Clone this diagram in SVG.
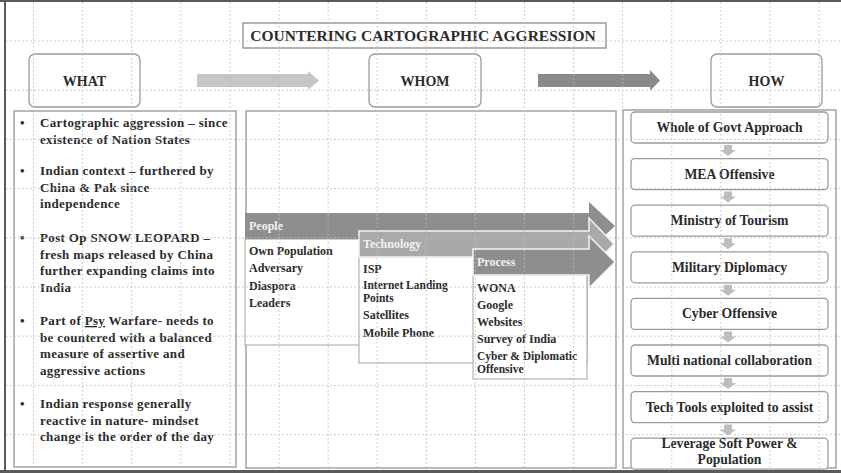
<svg xmlns="http://www.w3.org/2000/svg" width="841" height="473" viewBox="0 0 841 473">
  <defs>
    <style>
      .t { font-family: "Liberation Serif", "Times New Roman", serif; font-weight: bold; fill: #2b2b2b; }
      .hdr { font-size: 14px; text-anchor: middle; }
      .title { font-size: 15.5px; text-anchor: middle; }
      .body { font-size: 13px; letter-spacing: 0.35px; }
      .list { font-size: 12px; }
      .tight { font-size: 11.5px; }
      .how { font-size: 13.7px; text-anchor: middle; }
      .bar { font-size: 12px; fill: #f2f2f2; }
      .panel { fill: #ffffff; stroke: #a3a3a3; stroke-width: 1.5; }
      .hbox { fill: none; stroke: #9a9a9a; stroke-width: 1.3; }
      .step { fill: #ffffff; stroke: #9a9a9a; stroke-width: 1.3; }
      .lbox { fill: #ffffff; stroke: #b3b3b3; stroke-width: 1.2; }
      .grid line { stroke: #bdbdbd; stroke-width: 1; stroke-dasharray: 1.5 2.5; }
      .down { fill: #bdbdbd; }
    </style>
  </defs>

  <rect x="0" y="0" width="841" height="473" fill="#ffffff"/>

  <!-- panels -->
  <g id="what-panel">
    <rect class="panel" x="14" y="111" width="222" height="356"/>
  </g>
  <g id="whom-panel">
    <rect class="panel" x="246" y="111" width="370" height="357"/>
  </g>
  <g id="how-panel">
    <rect class="panel" x="623" y="110" width="213" height="358"/>
  </g>

  <!-- title -->
  <g id="title">
    <rect x="243" y="23" width="363" height="25" fill="#ffffff" stroke="#8a8a8a" stroke-width="1.3"/>
    <text class="t title" x="423" y="41">COUNTERING CARTOGRAPHIC AGGRESSION</text>
  </g>

  <!-- column headers -->
  <g id="what">
    <rect class="hbox" x="29" y="54" width="111" height="53" rx="6"/>
    <text class="t hdr" x="84.5" y="85.5">WHAT</text>
  </g>
  <g id="whom">
    <rect class="hbox" x="369" y="54" width="112" height="53" rx="6"/>
    <text class="t hdr" x="425" y="85.5">WHOM</text>
  </g>
  <g id="how">
    <rect class="hbox" x="711" y="54" width="111" height="53" rx="6"/>
    <text class="t hdr" x="766.5" y="85.5">HOW</text>
  </g>

  <!-- WHAT bullet list -->
  <g id="what-list" class="t body">
    <text x="20" y="127">•</text>
    <text x="40" y="127">Cartographic aggression – since</text>
    <text x="40" y="143.5">existence of Nation States</text>
    <text x="20" y="175">•</text>
    <text x="40" y="175">Indian context – furthered by</text>
    <text x="40" y="191.5">China &amp; Pak since</text>
    <text x="40" y="208">independence</text>
    <text x="20" y="242">•</text>
    <text x="40" y="242">Post Op SNOW LEOPARD –</text>
    <text x="40" y="258.5">fresh maps released by China</text>
    <text x="40" y="275">further expanding claims into</text>
    <text x="40" y="291.5">India</text>
    <text x="20" y="325">•</text>
    <text x="40" y="325">Part of <tspan text-decoration="underline">Psy</tspan> Warfare- needs to</text>
    <text x="40" y="341.5">be countered with a balanced</text>
    <text x="40" y="358">measure of assertive and</text>
    <text x="40" y="374.5">aggressive actions</text>
    <text x="20" y="408">•</text>
    <text x="40" y="408">Indian response generally</text>
    <text x="40" y="424.5">reactive in nature- mindset</text>
    <text x="40" y="441">change is the order of the day</text>
  </g>

  <!-- WHOM stacked groups -->
  <g id="people">
    <rect class="lbox" x="245" y="239" width="342" height="106"/>
    <path d="M245,213 H589 V202 L615,226 L589,250 V239 H245 Z" fill="#8e8e8e"/>
    <text class="t bar" x="249" y="229.5">People</text>
    <g class="t list">
      <text x="249" y="255">Own Population</text>
      <text x="249" y="272">Adversary</text>
      <text x="249" y="289.5">Diaspora</text>
      <text x="249" y="307">Leaders</text>
    </g>
  </g>
  <g id="technology">
    <rect class="lbox" x="359" y="257" width="228" height="106"/>
    <path d="M359,231 H589 V218 L614,244 L589,270 V257 H359 Z" fill="#a9a9a9" stroke="#f4f4f4" stroke-width="1.5"/>
    <text class="t bar" x="363" y="248">Technology</text>
    <g class="t list">
      <text x="363" y="273">ISP</text>
      <text class="tight" x="363" y="289">Internet Landing</text>
      <text class="tight" x="363" y="302">Points</text>
      <text x="363" y="319">Satellites</text>
      <text x="363" y="336.5">Mobile Phone</text>
    </g>
  </g>
  <g id="process">
    <rect class="lbox" x="473" y="275" width="114" height="104"/>
    <path d="M473,249 H589 V236 L615,262 L589,288 V275 H473 Z" fill="#8e8e8e" stroke="#f4f4f4" stroke-width="1.5"/>
    <text class="t bar" x="477" y="266">Process</text>
    <g class="t list">
      <text x="477" y="292">WONA</text>
      <text x="477" y="309">Google</text>
      <text x="477" y="326">Websites</text>
      <text x="477" y="343">Survey of India</text>
      <text class="tight" x="477" y="359.5">Cyber &amp; Diplomatic</text>
      <text class="tight" x="477" y="373">Offensive</text>
    </g>
  </g>

  <!-- HOW steps -->
  <g id="step1"><rect class="step" x="631" y="112" width="197" height="31" rx="4"/><text class="t how" x="729.5" y="132">Whole of Govt Approach</text></g>
  <g id="step2"><rect class="step" x="631" y="158.6" width="197" height="31" rx="4"/><text class="t how" x="729.5" y="178.6">MEA Offensive</text></g>
  <g id="step3"><rect class="step" x="631" y="205.2" width="197" height="31" rx="4"/><text class="t how" x="729.5" y="225.2">Ministry of Tourism</text></g>
  <g id="step4"><rect class="step" x="631" y="251.8" width="197" height="31" rx="4"/><text class="t how" x="729.5" y="271.8">Military Diplomacy</text></g>
  <g id="step5"><rect class="step" x="631" y="298.4" width="197" height="31" rx="4"/><text class="t how" x="729.5" y="318.4">Cyber Offensive</text></g>
  <g id="step6"><rect class="step" x="631" y="345" width="197" height="31" rx="4"/><text class="t how" x="729.5" y="365">Multi national collaboration</text></g>
  <g id="step7"><rect class="step" x="631" y="391.6" width="197" height="31" rx="4"/><text class="t how" x="729.5" y="411.6">Tech Tools exploited to assist</text></g>
  <g id="step8"><rect class="step" x="631" y="438.2" width="197" height="31" rx="4"/><text class="t how" x="729.5" y="448">Leverage Soft Power &amp;</text><text class="t how" x="729.5" y="463.5">Population</text></g>

  <!-- connectors -->
  <g id="connectors">
    <path d="M197,74 H308 V71 L319,80.5 L308,90 V87 H197 Z" fill="#c6c6c6"/>
    <path d="M538,74 H650 V70 L660,80.5 L650,91 V87 H538 Z" fill="#8a8a8a"/>
    <path class="down" d="M724,145 H732 V150 H736 L728,156 L720,150 H724 Z"/>
    <path class="down" d="M724,191.6 H732 V196.6 H736 L728,202.6 L720,196.6 H724 Z"/>
    <path class="down" d="M724,238.2 H732 V243.2 H736 L728,249.2 L720,243.2 H724 Z"/>
    <path class="down" d="M724,284.8 H732 V289.8 H736 L728,295.8 L720,289.8 H724 Z"/>
    <path class="down" d="M724,331.4 H732 V336.4 H736 L728,342.4 L720,336.4 H724 Z"/>
    <path class="down" d="M724,378 H732 V383 H736 L728,389 L720,383 H724 Z"/>
    <path class="down" d="M724,424.6 H732 V429.6 H736 L728,435.6 L720,429.6 H724 Z"/>
  </g>

  <!-- layout grid -->
  <g class="grid">
    <line x1="33.5" y1="2" x2="33.5" y2="470"/>
    <line x1="82.6" y1="2" x2="82.6" y2="470"/>
    <line x1="131.7" y1="2" x2="131.7" y2="470"/>
    <line x1="180.8" y1="2" x2="180.8" y2="470"/>
    <line x1="229.9" y1="2" x2="229.9" y2="470"/>
    <line x1="279" y1="2" x2="279" y2="470"/>
    <line x1="328.1" y1="2" x2="328.1" y2="470"/>
    <line x1="377.2" y1="2" x2="377.2" y2="470"/>
    <line x1="426.3" y1="2" x2="426.3" y2="470"/>
    <line x1="475.4" y1="2" x2="475.4" y2="470"/>
    <line x1="524.5" y1="2" x2="524.5" y2="470"/>
    <line x1="573.6" y1="2" x2="573.6" y2="470"/>
    <line x1="622.7" y1="2" x2="622.7" y2="470"/>
    <line x1="671.8" y1="2" x2="671.8" y2="470"/>
    <line x1="720.9" y1="2" x2="720.9" y2="470"/>
    <line x1="770" y1="2" x2="770" y2="470"/>
    <line x1="819.1" y1="2" x2="819.1" y2="470"/>
    <line x1="6" y1="41" x2="841" y2="41"/>
    <line x1="6" y1="90.2" x2="841" y2="90.2"/>
    <line x1="6" y1="139.4" x2="841" y2="139.4"/>
    <line x1="6" y1="188.6" x2="841" y2="188.6"/>
    <line x1="6" y1="237.8" x2="841" y2="237.8"/>
    <line x1="6" y1="287" x2="841" y2="287"/>
    <line x1="6" y1="336.2" x2="841" y2="336.2"/>
    <line x1="6" y1="385.4" x2="841" y2="385.4"/>
    <line x1="6" y1="434.6" x2="841" y2="434.6"/>
  </g>

  <!-- outer frame -->
  <g id="frame" fill="#5a5a5a">
    <rect x="0" y="0" width="841" height="2"/>
    <rect x="4" y="0" width="2" height="473"/>
    <rect x="0" y="470" width="841" height="3"/>
  </g>
</svg>
